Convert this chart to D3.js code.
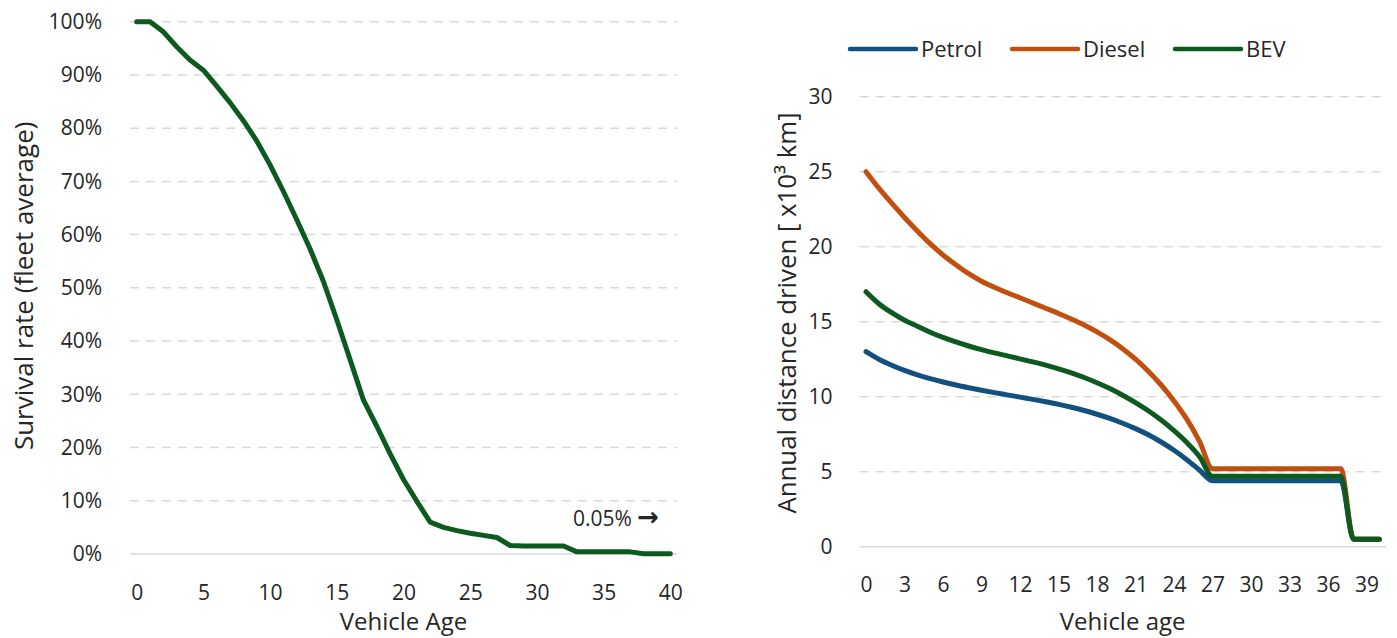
<!DOCTYPE html>
<html>
<head>
<meta charset="utf-8">
<script src="https://cdn.jsdelivr.net/npm/d3@7"></script>
<style>
  body { margin: 0; background: #fff; }
  svg text { font-family: "Open Sans", "Noto Sans", sans-serif; fill: #262626; }
</style>
</head>
<body>
<svg id="chart" width="1397" height="638"></svg>
<script>
// --- left chart: survival rate by vehicle age
const survivalAge = [0,1,2,3,4,5,6,7,8,9,10,11,12,13,14,15,16,17,18,19,20,
  21,22,23,24,25,26,27,28,29,30,31,32,33,34,35,36,37,38,39,40];
const survivalRate = [100,100,98.1,95.3,92.8,90.9,87.9,84.8,81.4,77.6,73.1,
  68.1,62.8,57.3,51.2,44.0,36.5,28.9,24.0,18.8,14.0,9.9,6.0,5.0,4.4,3.9,3.5,
  3.1,1.6,1.5,1.5,1.5,1.5,0.4,0.4,0.4,0.4,0.4,0.05,0.05,0.05];
const survivalTicksX = [0,5,10,15,20,25,30,35,40];
const survivalTicksY = [0,10,20,30,40,50,60,70,80,90,100];

// --- right chart: annual distance driven (x10^3 km)
const distAge = survivalAge;
const petrol = [13.0,12.5,12.1,11.75,11.45,11.2,10.98,10.78,10.6,10.43,10.27,
  10.12,9.97,9.82,9.66,9.49,9.3,9.08,8.83,8.55,8.23,7.87,7.46,6.98,6.43,5.8,
  5.1,4.4,4.4,4.4,4.4,4.4,4.4,4.4,4.4,4.4,4.4,4.4,0.5,0.5,0.5];
const diesel = [25.0,23.9,22.9,21.95,21.05,20.2,19.45,18.8,18.2,17.7,17.3,
  16.93,16.6,16.25,15.9,15.55,15.18,14.78,14.32,13.8,13.2,12.5,11.7,10.78,
  9.72,8.5,7.0,5.2,5.2,5.2,5.2,5.2,5.2,5.2,5.2,5.2,5.2,5.2,0.5,0.5,0.5];
const bev = [17.0,16.2,15.6,15.1,14.7,14.3,13.95,13.65,13.38,13.14,12.92,
  12.72,12.52,12.32,12.1,11.86,11.59,11.28,10.93,10.54,10.1,9.61,9.06,8.44,
  7.74,6.95,6.0,4.7,4.7,4.7,4.7,4.7,4.7,4.7,4.7,4.7,4.7,4.7,0.5,0.5,0.5];
const seriesNames = ["Petrol", "Diesel", "BEV"];
const seriesColors = ["#12507f", "#c24f0e", "#0c5a20"];
const distTicksX = [0,3,6,9,12,15,18,21,24,27,30,33,36,39];
const distTicksY = [0,5,10,15,20,25,30];

const svg = d3.select("#chart");
const gridColor = "#d9d9d9";

// ================= left =================
let xL = d3.scaleLinear().domain([-0.5, 40.5]).range([130, 677]);
let yL = d3.scaleLinear().domain([0, 100]).range([554, 21.7]);

let left = svg.append("g");

left.selectAll(".gridL")
  .data(survivalTicksY)
  .enter()
  .append("line")
  .attr("x1", xL.range()[0])
  .attr("x2", xL.range()[1])
  .attr("y1", d => yL(d))
  .attr("y2", d => yL(d))
  .attr("stroke", gridColor)
  .attr("stroke-width", 1.5)
  .attr("stroke-dasharray", d => d === 0 ? null : "9,7");

left.append("g")
  .attr("transform", `translate(${xL.range()[0]},0)`)
  .call(d3.axisLeft(yL).tickValues(survivalTicksY).tickSize(0).tickPadding(28)
    .tickFormat(d => d + "%"))
  .call(g => g.select(".domain").remove())
  .call(g => g.selectAll("text")
    .style("font-size", "21px")
    .attr("fill", "#262626"));

left.append("g")
  .attr("transform", `translate(0,${yL(0)})`)
  .call(d3.axisBottom(xL).tickValues(survivalTicksX).tickSize(0))
  .call(g => g.select(".domain").remove())
  .call(g => g.selectAll("text")
    .attr("y", 39).attr("dy", "0.35em")
    .style("font-size", "21px")
    .attr("fill", "#262626"));

left.append("text")
  .attr("transform", `translate(24,${(yL(0) + yL(100)) / 2 - 2}) rotate(-90)`)
  .attr("text-anchor", "middle")
  .attr("dy", "0.35em")
  .style("font-size", "26px")
  .text("Survival rate (fleet average)");

left.append("text")
  .attr("x", (xL.range()[0] + xL.range()[1]) / 2)
  .attr("y", 622)
  .attr("dy", "0.35em")
  .attr("text-anchor", "middle")
  .style("font-size", "24px")
  .text("Vehicle Age");

let note = left.append("text")
  .attr("x", 573)
  .attr("y", 519)
  .attr("dy", "0.35em")
  .style("font-size", "21px");
note.append("tspan").text("0.05% ");
note.append("tspan")
  .style("font-family", "'DejaVu Sans', sans-serif")
  .style("font-size", "26px")
  .style("font-weight", "bold")
  .text("\u2192");

let lineL = d3.line()
  .x((d, i) => xL(survivalAge[i]))
  .y(d => yL(d));

left.append("path")
  .datum(survivalRate)
  .attr("d", lineL)
  .attr("fill", "none")
  .attr("stroke", "#0c5a20")
  .attr("stroke-width", 5)
  .attr("stroke-linejoin", "round")
  .attr("stroke-linecap", "round");

// ================= right =================
let xR = d3.scaleLinear().domain([-0.5, 40.5]).range([859.6, 1385.7]);
let yR = d3.scaleLinear().domain([0, 30]).range([546.7, 96.7]);

let right = svg.append("g");

right.selectAll(".gridR")
  .data(distTicksY)
  .enter()
  .append("line")
  .attr("x1", xR.range()[0])
  .attr("x2", xR.range()[1])
  .attr("y1", d => yR(d))
  .attr("y2", d => yR(d))
  .attr("stroke", gridColor)
  .attr("stroke-width", 1.5)
  .attr("stroke-dasharray", d => d === 0 ? null : "9,7");

right.append("g")
  .attr("transform", `translate(${xR.range()[0]},0)`)
  .call(d3.axisLeft(yR).tickValues(distTicksY).tickSize(0).tickPadding(27))
  .call(g => g.select(".domain").remove())
  .call(g => g.selectAll("text")
    .style("font-size", "21px")
    .attr("fill", "#262626"));

right.append("g")
  .attr("transform", `translate(0,${yR(0)})`)
  .call(d3.axisBottom(xR).tickValues(distTicksX).tickSize(0))
  .call(g => g.select(".domain").remove())
  .call(g => g.selectAll("text")
    .attr("y", 38).attr("dy", "0.35em")
    .style("font-size", "21px")
    .attr("fill", "#262626"));

right.append("text")
  .attr("transform", "translate(787,313) rotate(-90)")
  .attr("text-anchor", "middle")
  .attr("dy", "0.35em")
  .style("font-size", "25.8px")
  .text("Annual distance driven [ x10\u00B3 km]");

right.append("text")
  .attr("x", (xR.range()[0] + xR.range()[1]) / 2)
  .attr("y", 622)
  .attr("dy", "0.35em")
  .attr("text-anchor", "middle")
  .style("font-size", "24px")
  .text("Vehicle age");

let lineR = d3.line()
  .x((d, i) => xR(distAge[i]))
  .y(d => yR(d))
  .curve(d3.curveMonotoneX);

[petrol, diesel, bev].forEach((s, k) => {
  right.append("path")
    .datum(s)
    .attr("d", lineR)
    .attr("fill", "none")
    .attr("stroke", seriesColors[k])
    .attr("stroke-width", 5)
    .attr("stroke-linejoin", "round")
    .attr("stroke-linecap", "round");
});

// legend
let legendX = [850, 1012, 1175];
let legend = svg.append("g");
seriesNames.forEach((name, k) => {
  legend.append("line")
    .attr("x1", legendX[k]).attr("x2", legendX[k] + 66)
    .attr("y1", 49).attr("y2", 49)
    .attr("stroke", seriesColors[k])
    .attr("stroke-width", 4.5)
    .attr("stroke-linecap", "round");
  legend.append("text")
    .attr("x", legendX[k] + 71)
    .attr("y", 49)
    .attr("dy", "0.35em")
    .style("font-size", "22px")
    .text(name);
});
</script>
</body>
</html>
